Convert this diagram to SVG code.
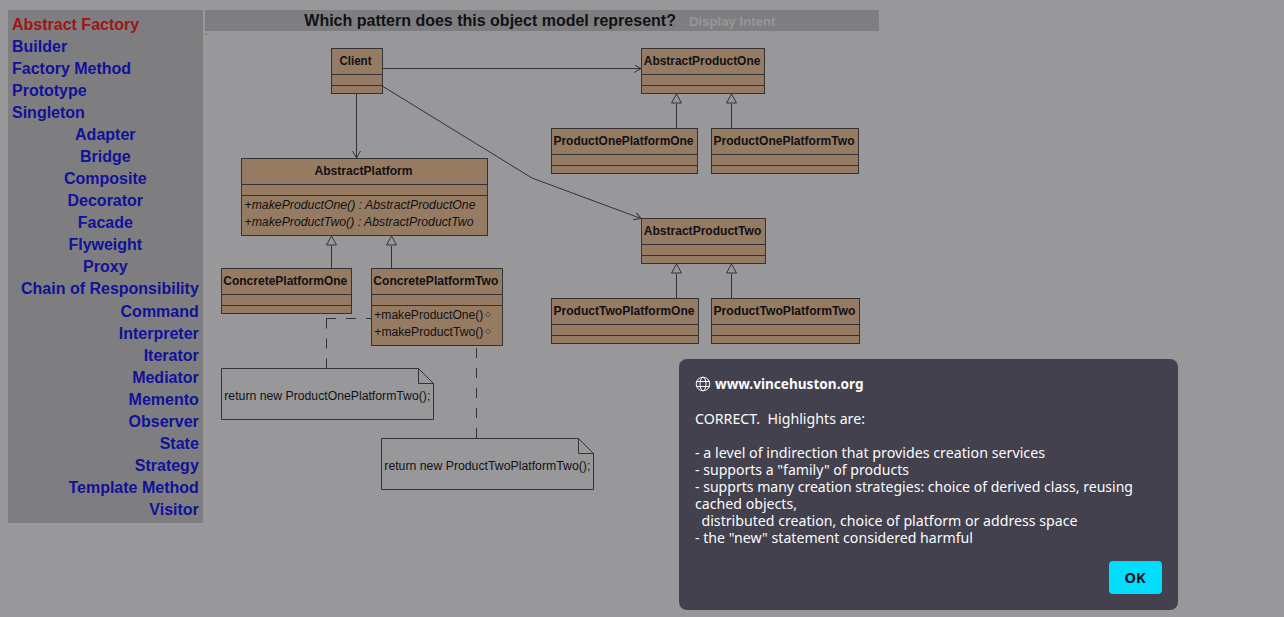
<svg xmlns="http://www.w3.org/2000/svg" width="1284" height="617" viewBox="0 0 1284 617">
<style>
.nav{font:bold 16px "Liberation Sans",Arial,sans-serif;fill:#11119a}
.mid{text-anchor:middle}.end{text-anchor:end}
.box{fill:#967b63;stroke:#333337;stroke-width:1}
.sep{stroke:#333337;stroke-width:1;fill:none}
.t{font:bold 12px "Liberation Sans",Arial,sans-serif;fill:#111115}
.m{font:12px "Liberation Sans",Arial,sans-serif;fill:#111115}
.i{font-style:italic}
.line{stroke:#333337;stroke-width:1;fill:none}
.dash{stroke:#333337;stroke-width:1;fill:none;stroke-dasharray:10 10}
.d{font:14.5px "Noto Sans","Open Sans",sans-serif;fill:#fbfbfe}
.note{fill:none;stroke:#333337;stroke-width:1}
</style>
<defs>
<marker id="open" markerWidth="10" markerHeight="10" refX="7" refY="4" orient="auto" markerUnits="userSpaceOnUse"><path d="M0,0 L7,4 L0,8" fill="none" stroke="#333337"/></marker>
</defs>
<rect width="1284" height="617" fill="#98989a"/>
<g id="nav">
<rect x="8" y="10" width="195" height="513" fill="#7e7e80"/>
<text class="nav" x="12" y="30" style="fill:#a01414">Abstract Factory</text>
<text class="nav" x="12" y="52">Builder</text>
<text class="nav" x="12" y="74">Factory Method</text>
<text class="nav" x="12" y="96">Prototype</text>
<text class="nav" x="12" y="118">Singleton</text>
<text class="nav mid" x="105.300" y="140">Adapter</text>
<text class="nav mid" x="105.300" y="162">Bridge</text>
<text class="nav mid" x="105.300" y="184">Composite</text>
<text class="nav mid" x="105.300" y="206">Decorator</text>
<text class="nav mid" x="105.300" y="228">Facade</text>
<text class="nav mid" x="105.300" y="250">Flyweight</text>
<text class="nav mid" x="105.300" y="272">Proxy</text>
<text class="nav end" x="198.800" y="294">Chain of Responsibility</text>
<text class="nav end" x="198.800" y="317">Command</text>
<text class="nav end" x="198.800" y="339">Interpreter</text>
<text class="nav end" x="198.800" y="361">Iterator</text>
<text class="nav end" x="198.800" y="383">Mediator</text>
<text class="nav end" x="198.800" y="405">Memento</text>
<text class="nav end" x="198.800" y="427">Observer</text>
<text class="nav end" x="198.800" y="449">State</text>
<text class="nav end" x="198.800" y="471">Strategy</text>
<text class="nav end" x="198.800" y="493">Template Method</text>
<text class="nav end" x="198.800" y="515">Visitor</text>
</g>
<g id="header">
<rect x="205" y="10" width="674" height="21" fill="#7e7e80"/>
<text x="304.300" y="26" style="font:bold 16px 'Liberation Sans',Arial,sans-serif;fill:#111115">Which pattern does this object model represent?</text>
<text x="689" y="26" style="font:bold 13.200px 'Liberation Sans',Arial,sans-serif;fill:#969698">Display Intent</text>
<rect x="206" y="34" width="1" height="1" fill="#2c6b2c"/>
</g>
<g id="connectors">
<path class="line" d="M356.500,94V158" marker-end="url(#open)"/>
<path class="line" d="M383,68.500H641" marker-end="url(#open)"/>
<path class="line" d="M383,86.500L532,178L641,218.500" marker-end="url(#open)" stroke-width=".8"/>
<path class="line" d="M331.500,268V246M391.500,268V246M676.500,128V104M731.500,128V104M676.500,298V274M731.500,298V274"/>
<path class="note" d="M331.500,236l-5,9h10zM391.500,236l-5,9h10zM676.500,94l-5,9h10zM731.500,94l-5,9h10zM676.500,264l-5,9h10zM731.500,264l-5,9h10z"/>
<path class="dash" d="M326.500,368.500V318.500"/>
<path class="dash" d="M326,318.500H373"/>
<path class="dash" d="M476.500,348V438"/>
</g>
<g id="client"><rect class="box" x="331.500" y="48.500" width="51" height="45"/><path class="sep" d="M331.500,74.500h51M331.500,85.500h51"/><text class="t" x="339.500" y="65" textLength="32" lengthAdjust="spacingAndGlyphs">Client</text></g>
<g id="abstract-platform"><rect class="box" x="241.500" y="158.500" width="246" height="77"/><path class="sep" d="M241.500,184.500h246M241.500,195.500h246"/><text class="t" x="314.500" y="175" textLength="98" lengthAdjust="spacingAndGlyphs">AbstractPlatform</text>
<text class="m" x="244.500" y="209" textLength="231" lengthAdjust="spacingAndGlyphs">+<tspan class="i">makeProductOne() : AbstractProductOne</tspan></text>
<text class="m" x="244.500" y="226" textLength="229" lengthAdjust="spacingAndGlyphs">+<tspan class="i">makeProductTwo() : AbstractProductTwo</tspan></text></g>
<g id="concrete-platform-one"><rect class="box" x="221.500" y="268.500" width="130" height="45"/><path class="sep" d="M221.500,294.500h130M221.500,305.500h130"/><text class="t" x="223.300" y="285" textLength="124" lengthAdjust="spacingAndGlyphs">ConcretePlatformOne</text></g>
<g id="concrete-platform-two"><rect class="box" x="371.500" y="268.500" width="131" height="77"/><path class="sep" d="M371.500,294.500h131M371.500,305.500h131"/><text class="t" x="373.300" y="285" textLength="125" lengthAdjust="spacingAndGlyphs">ConcretePlatformTwo</text>
<text class="m" x="374.300" y="319" textLength="109" lengthAdjust="spacingAndGlyphs">+makeProductOne()</text>
<text class="m" x="374.300" y="336" textLength="109" lengthAdjust="spacingAndGlyphs">+makeProductTwo()</text>
<path d="M488,312l2.500,2.500l-2.500,2.500l-2.500,-2.500zM488,329l2.500,2.500l-2.500,2.500l-2.500,-2.500z" fill="none" stroke="#333337" stroke-width=".7"/></g>
<g id="note-one"><path class="note" d="M221.500,368.500H418.500L433.500,383.500V419.500H221.500ZM418.500,368.500V383.500H433.500"/><text class="m" x="224.300" y="400" textLength="206" lengthAdjust="spacingAndGlyphs">return new ProductOnePlatformTwo();</text></g>
<g id="note-two"><path class="note" d="M381.500,438.500H578.500L593.500,453.500V489.500H381.500ZM578.500,438.500V453.500H593.500"/><text class="m" x="384.300" y="470" textLength="206" lengthAdjust="spacingAndGlyphs">return new ProductTwoPlatformTwo();</text></g>
<g id="abstract-product-one"><rect class="box" x="641.500" y="48.500" width="123" height="45"/><path class="sep" d="M641.500,74.500h123M641.500,85.500h123"/><text class="t" x="643.800" y="65" textLength="116.500" lengthAdjust="spacingAndGlyphs">AbstractProductOne</text></g>
<g id="product-one-platform-one"><rect class="box" x="551.500" y="128.500" width="146" height="45"/><path class="sep" d="M551.500,154.500h146M551.500,165.500h146"/><text class="t" x="553.500" y="145" textLength="140" lengthAdjust="spacingAndGlyphs">ProductOnePlatformOne</text></g>
<g id="product-one-platform-two"><rect class="box" x="711.500" y="128.500" width="147" height="45"/><path class="sep" d="M711.500,154.500h147M711.500,165.500h147"/><text class="t" x="713.500" y="145" textLength="141" lengthAdjust="spacingAndGlyphs">ProductOnePlatformTwo</text></g>
<g id="abstract-product-two"><rect class="box" x="641.500" y="218.500" width="124" height="45"/><path class="sep" d="M641.500,244.500h124M641.500,255.500h124"/><text class="t" x="643.800" y="235" textLength="117.500" lengthAdjust="spacingAndGlyphs">AbstractProductTwo</text></g>
<g id="product-two-platform-one"><rect class="box" x="551.500" y="298.500" width="147" height="45"/><path class="sep" d="M551.500,324.500h147M551.500,335.500h147"/><text class="t" x="553.500" y="315" textLength="141" lengthAdjust="spacingAndGlyphs">ProductTwoPlatformOne</text></g>
<g id="product-two-platform-two"><rect class="box" x="711.500" y="298.500" width="148" height="45"/><path class="sep" d="M711.500,324.500h148M711.500,335.500h148"/><text class="t" x="713.500" y="315" textLength="142" lengthAdjust="spacingAndGlyphs">ProductTwoPlatformTwo</text></g>
<g id="dialog">
<rect x="679" y="359" width="499" height="251" rx="8" fill="#42414d"/>
<g fill="none" stroke="#fbfbfe" stroke-width="1"><circle cx="703" cy="384" r="6.800"/><ellipse cx="703" cy="384" rx="3" ry="6.800"/><path d="M696.500,381.500h13M696.500,386.500h13"/></g>
<text class="d" x="715" y="389" textLength="148.500" lengthAdjust="spacingAndGlyphs" style="font-weight:bold">www.vincehuston.org</text>
<text class="d" xml:space="preserve"><tspan x="695" y="424" textLength="170" lengthAdjust="spacingAndGlyphs">CORRECT.  Highlights are:</tspan><tspan x="695" y="458" textLength="350" lengthAdjust="spacingAndGlyphs">- a level of indirection that provides creation services</tspan><tspan x="695" y="475" textLength="214" lengthAdjust="spacingAndGlyphs">- supports a "family" of products</tspan><tspan x="695" y="492" textLength="438" lengthAdjust="spacingAndGlyphs">- supprts many creation strategies: choice of derived class, reusing</tspan><tspan x="695" y="509" textLength="102" lengthAdjust="spacingAndGlyphs">cached objects,</tspan><tspan x="701.500" y="526" textLength="376" lengthAdjust="spacingAndGlyphs">distributed creation, choice of platform or address space</tspan><tspan x="695" y="543" textLength="278" lengthAdjust="spacingAndGlyphs">- the "new" statement considered harmful</tspan></text>
<rect x="1109" y="561" width="53" height="33" rx="4" fill="#00ddff"/>
<text x="1135" y="583" text-anchor="middle" style="font:bold 14.500px 'Noto Sans',sans-serif;fill:#15141a">OK</text>
</g>
</svg>
